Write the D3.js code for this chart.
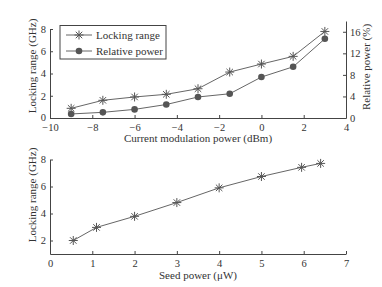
<!DOCTYPE html>
<meta charset="utf-8">
<html>
<head>
<style>
  body { margin: 0; background: #fff; }
  text { font-family: "Liberation Serif", "DejaVu Serif", serif; fill: #333; }
</style>
<script src="https://cdn.jsdelivr.net/npm/d3@7"></script>
</head>
<body>
<script>
// top panel
var modPower = [-9, -7.5, -6, -4.5, -3, -1.5, 0, 1.5, 3]
var lockRange = [0.87, 1.59, 1.89, 2.13, 2.63, 4.13, 4.85, 5.54, 7.78]
var relPower = [0.75, 1.05, 1.6, 2.5, 3.9, 4.5, 7.6, 9.5, 14.7]
var topXTicks = [-10, -8, -6, -4, -2, 0, 2, 4]
var topYTicks = [0, 2, 4, 6, 8]
var topY2Ticks = [0, 4, 8, 12, 16]
// bottom panel
var seedPower = [0.55, 1.1, 2, 3, 4, 5, 5.95, 6.4]
var seedLock = [2, 2.97, 3.79, 4.81, 5.9, 6.74, 7.42, 7.71]
var botXTicks = [0, 1, 2, 3, 4, 5, 6, 7]
var botYTicks = [2, 4, 6, 8]

var W = 382, H = 287
var lineCol = "#666", markCol = "#555", axisCol = "#444"
var svg = d3.select("body").append("svg").attr("width", W).attr("height", H)

function fmt(d){ return d < 0 ? "\u2212" + Math.abs(d) : "" + d }

function star(g, x, y, r){
    var a = r * 0.72
    g.append("path")
     .attr("d", `M${x-r},${y}L${x+r},${y}M${x},${y-r}L${x},${y+r}M${x-a},${y-a}L${x+a},${y+a}M${x-a},${y+a}L${x+a},${y-a}`)
     .attr("stroke", markCol).attr("stroke-width", 1).attr("fill", "none")
}

function styleAxis(g){
    g.select(".domain").attr("stroke", axisCol)
    g.selectAll(".tick line").attr("stroke", axisCol)
    g.selectAll(".tick text").style("font-size", "10.5px").attr("fill", "#333")
}

// ---------- top chart
var x1 = d3.scaleLinear().domain([-10, 4]).range([50, 346])
var y1 = d3.scaleLinear().domain([0, 8]).range([118, 29])
var y2 = d3.scaleLinear().domain([0, 18]).range([118, 21])

var gx1 = svg.append("g").attr("transform", "translate(0,118)")
  .call(d3.axisBottom(x1).tickValues(topXTicks).tickFormat(fmt).tickSizeInner(-3).tickSizeOuter(0).tickPadding(6))
styleAxis(gx1)
var gy1 = svg.append("g").attr("transform", "translate(50,0)")
  .call(d3.axisLeft(y1).tickValues(topYTicks).tickFormat(fmt).tickSizeInner(-3).tickSizeOuter(0).tickPadding(4))
styleAxis(gy1)
gy1.selectAll(".tick text").filter(d=>d===0).attr("dy", "0.2em")
var gy2 = svg.append("g").attr("transform", "translate(346,0)")
  .call(d3.axisRight(y2).tickValues(topY2Ticks).tickFormat(fmt).tickSizeInner(-3).tickSizeOuter(0).tickPadding(4))
styleAxis(gy2)

var ln1 = d3.line().x((d,i)=>x1(modPower[i])).y(d=>y1(d))
var ln2 = d3.line().x((d,i)=>x1(modPower[i])).y(d=>y2(d))
svg.append("path").datum(lockRange).attr("d", ln1).attr("fill", "none").attr("stroke", lineCol).attr("stroke-width", 1)
svg.append("path").datum(relPower).attr("d", ln2).attr("fill", "none").attr("stroke", lineCol).attr("stroke-width", 1)
var mk = svg.append("g")
lockRange.forEach((d,i)=>star(mk, x1(modPower[i]), y1(d), 4.5))
mk.selectAll("circle").data(relPower).enter().append("circle")
  .attr("cx", (d,i)=>x1(modPower[i])).attr("cy", d=>y2(d)).attr("r", 3.3).attr("fill", markCol)

svg.append("text").attr("x", 198).attr("y", 142).attr("text-anchor", "middle")
  .style("font-size", "11px").text("Current modulation power (dBm)")
svg.append("text").attr("transform", "translate(36,66) rotate(-90)").attr("text-anchor", "middle")
  .style("font-size", "11px").text("Locking range (GHz)")
svg.append("text").attr("transform", "translate(370,67) rotate(-90)").attr("text-anchor", "middle")
  .style("font-size", "11px").text("Relative power (%)")

// legend
var lg = svg.append("g")
lg.append("rect").attr("x", 60).attr("y", 25.5).attr("width", 106).attr("height", 33.5)
  .attr("fill", "#fff").attr("stroke", axisCol).attr("stroke-width", 1)
lg.append("line").attr("x1", 66).attr("x2", 92).attr("y1", 35).attr("y2", 35).attr("stroke", lineCol)
star(lg, 79, 35, 4.5)
lg.append("line").attr("x1", 66).attr("x2", 92).attr("y1", 51).attr("y2", 51).attr("stroke", lineCol)
lg.append("circle").attr("cx", 79).attr("cy", 51).attr("r", 3.3).attr("fill", markCol)
lg.append("text").attr("x", 96).attr("y", 39).style("font-size", "11px").text("Locking range")
lg.append("text").attr("x", 96).attr("y", 55).style("font-size", "11px").text("Relative power")

// ---------- bottom chart
var x3 = d3.scaleLinear().domain([0, 7]).range([50, 346])
var y3 = d3.scaleLinear().domain([1, 8]).range([254, 159.5])

var gx3 = svg.append("g").attr("transform", "translate(0,254)")
  .call(d3.axisBottom(x3).tickValues(botXTicks).tickFormat(fmt).tickSizeInner(-3).tickSizeOuter(0).tickPadding(6))
styleAxis(gx3)
var gy3 = svg.append("g").attr("transform", "translate(50,0)")
  .call(d3.axisLeft(y3).tickValues(botYTicks).tickFormat(fmt).tickSizeInner(-3).tickSizeOuter(0).tickPadding(4))
styleAxis(gy3)

var ln3 = d3.line().x((d,i)=>x3(seedPower[i])).y(d=>y3(d))
svg.append("path").datum(seedLock).attr("d", ln3).attr("fill", "none").attr("stroke", lineCol).attr("stroke-width", 1)
var mk3 = svg.append("g")
seedLock.forEach((d,i)=>star(mk3, x3(seedPower[i]), y3(d), 4.5))

svg.append("text").attr("x", 198).attr("y", 279).attr("text-anchor", "middle")
  .style("font-size", "11px").text("Seed power (\u03bcW)")
svg.append("text").attr("transform", "translate(36,195) rotate(-90)").attr("text-anchor", "middle")
  .style("font-size", "11px").text("Locking range (GHz)")
</script>
</body>
</html>
